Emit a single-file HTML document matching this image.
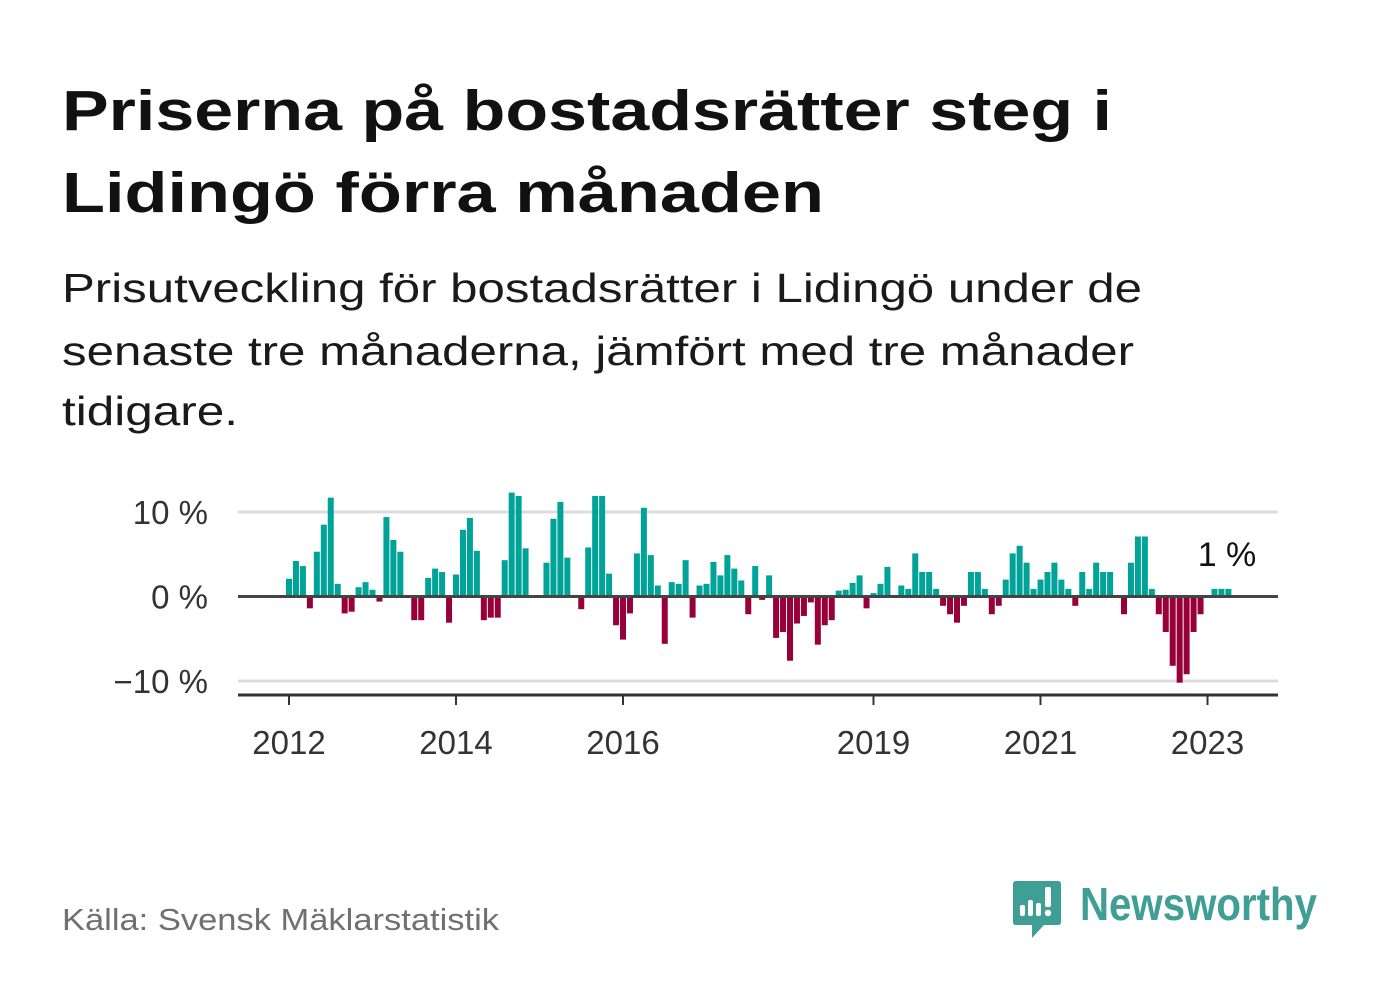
<!DOCTYPE html>
<html><head><meta charset="utf-8"><style>
html,body{margin:0;padding:0;background:#fff;}
svg{display:block;font-family:"Liberation Sans",sans-serif;}
</style></head><body>
<svg id="chart" width="1382" height="999" viewBox="0 0 1382 999" xmlns="http://www.w3.org/2000/svg">
<text x="62" y="130" font-size="57" font-weight="bold" fill="#111" textLength="1050" lengthAdjust="spacingAndGlyphs">Priserna på bostadsrätter steg i</text>
<text x="62" y="212" font-size="57" font-weight="bold" fill="#111" textLength="762" lengthAdjust="spacingAndGlyphs">Lidingö förra månaden</text>
<text x="62" y="302" font-size="41" fill="#1a1a1a" textLength="1080" lengthAdjust="spacingAndGlyphs">Prisutveckling för bostadsrätter i Lidingö under de</text>
<text x="62" y="365" font-size="41" fill="#1a1a1a" textLength="1072" lengthAdjust="spacingAndGlyphs">senaste tre månaderna, jämfört med tre månader</text>
<text x="62" y="425" font-size="41" fill="#1a1a1a" textLength="176" lengthAdjust="spacingAndGlyphs">tidigare.</text>
<g id="plot"></g>
<text x="62" y="930" font-size="31" fill="#707070" textLength="437" lengthAdjust="spacingAndGlyphs">Källa: Svensk Mäklarstatistik</text>
<g>
<path d="M1016 881 H1058 Q1061 881 1061 884 V922 Q1061 925 1058 925 H1044 L1032 938 V925 H1016 Q1013 925 1013 922 V884 Q1013 881 1016 881 Z" fill="#3f9e96"/>
<rect x="1020" y="905" width="5" height="11" rx="2" fill="#fff"/>
<rect x="1028" y="900" width="5" height="16" rx="2" fill="#fff"/>
<rect x="1036" y="903" width="5" height="13" rx="2" fill="#fff"/>
<rect x="1045" y="887" width="6" height="20" rx="2" fill="#fff"/>
<circle cx="1048" cy="913" r="3.2" fill="#fff"/>
<text x="1080" y="920" font-size="46" font-weight="bold" fill="#3f9e96" textLength="237" lengthAdjust="spacingAndGlyphs">Newsworthy</text>
</g>
</svg>
<script>
const values = [2.1,4.2,3.6,-1.4,5.3,8.5,11.7,1.5,-2.0,-1.8,1.1,1.7,0.8,-0.6,9.4,6.7,5.3,0,-2.8,-2.8,2.2,3.3,2.9,-3.1,2.6,7.9,9.3,5.4,-2.8,-2.5,-2.5,4.3,12.3,11.9,5.7,0,0,4.0,9.2,11.2,4.6,0,-1.5,5.8,11.9,11.9,2.7,-3.4,-5.1,-2.0,5.1,10.5,4.9,1.3,-5.6,1.7,1.5,4.3,-2.5,1.3,1.5,4.1,2.5,4.9,3.3,1.9,-2.1,3.6,-0.4,2.5,-4.9,-4.2,-7.6,-3.2,-2.3,-0.7,-5.7,-3.4,-2.8,0.7,0.8,1.6,2.5,-1.4,0.4,1.5,3.5,0,1.3,0.9,5.1,2.9,2.9,0.9,-1.1,-2.1,-3.1,-1.1,2.9,2.9,0.9,-2.1,-1.1,2.0,5.1,6.0,4.0,0.9,2.0,2.9,4.0,2.0,0.9,-1.1,2.9,0.9,4.0,2.9,2.9,0,-2.1,4.0,7.1,7.1,0.9,-2.1,-4.2,-8.2,-10.2,-9.2,-4.2,-2.1,0,0.9,0.9,0.9];
const startYear = 2012;
const yTicks = [10,0,-10];
const yTickLabels = ["10 %","0 %","\u221210 %"];
const xTickYears = [2012,2014,2016,2019,2021,2023];
const lastLabel = "1 %";

const NS="http://www.w3.org/2000/svg";
const g=document.getElementById('plot');
const X0=238,X1=1278;
const xMonth=i=>289+i*(83.5/12);
const y=v=>596.5-v*8.45;
function mk(tag,attrs){const e=document.createElementNS(NS,tag);for(const k in attrs)e.setAttribute(k,attrs[k]);g.appendChild(e);return e;}
yTicks.forEach((t,i)=>{
  if(t!==0){const l=mk('line',{x1:X0,x2:X1,y1:y(t),y2:y(t),stroke:'#dcdcdc','stroke-width':3});
  
  }
  const tx=mk('text',{x:208,y:y(t)+12,'font-size':33,fill:'#333','text-anchor':'end'});
  tx.textContent=yTickLabels[i];
  
  
});
values.forEach((v,i)=>{
  if(v===0)return;
  const x=xMonth(i)-3;
  const r=mk('rect',{x:x,width:6,y:Math.min(y(v),y(0)),height:Math.abs(y(v)-y(0)),fill:v>0?'#00a398':'#98003a'});
  
  
});
const zl=mk('line',{x1:X0,x2:X1,y1:y(0),y2:y(0),stroke:'#444','stroke-width':3});


const ax=mk('line',{x1:X0,x2:X1,y1:695,y2:695,stroke:'#333','stroke-width':3});


xTickYears.forEach(yr=>{
  const x=xMonth((yr-startYear)*12);
  const tk=mk('line',{x1:x,x2:x,y1:695,y2:705,stroke:'#333','stroke-width':2});
  
  
  const tx=mk('text',{x:x,y:754,'font-size':33,fill:'#333','text-anchor':'middle'});
  tx.textContent=yr;
  
  
});
const ll=mk('text',{x:1227,y:566,'font-size':34,fill:'#111','text-anchor':'middle'});
ll.textContent=lastLabel;


</script>
</body></html>
